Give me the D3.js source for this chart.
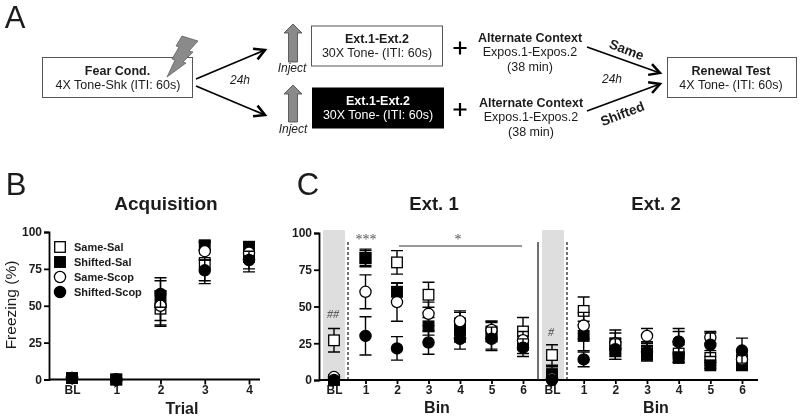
<!DOCTYPE html>
<html><head><meta charset="utf-8">
<script src="https://d3js.org/d3.v7.min.js"></script>
<style>
html,body{margin:0;padding:0;background:#fff}
svg{display:block;filter:blur(0.35px)}
text{font-family:"Liberation Sans",Arial,sans-serif;fill:#1c1c1c}
</style></head><body><svg id="c" width="800" height="417"></svg>
<script>
// ---------- data ----------
const seriesNames = ["Same-Sal","Shifted-Sal","Same-Scop","Shifted-Scop"];
const trialLabels = ["BL","1","2","3","4"];
const binLabels = ["BL","1","2","3","4","5","6"];

const acqSameSal     = [1,0,48,79,83];
const acqSameSalErr  = [0,0,12,14,10];
const acqShiftedSal    = [1,0,53,91,90];
const acqShiftedSalErr = [0,0,16,3,3];
const acqSameScop    = [1,0,50,87,86];
const acqSameScopErr = [0,0,10,6,6];
const acqShiftedScop    = [1,0,58,74,81];
const acqShiftedScopErr = [0,0,9,7,6];

const ext1SameSal     = [27,83,80,58,36,33,33];
const ext1SameSalErr  = [8,6,8,8.5,10,7,9.5];
const ext1ShiftedSal    = [0,83,60,36.5,34,30,24];
const ext1ShiftedSalErr = [1,5,6,6,8,9,6];
const ext1SameScop    = [2,60,53,45,40,34,27];
const ext1SameScopErr = [1,11.5,13,8,7,6,6];
const ext1ShiftedScop    = [0,30,21.5,25.5,28,28,22];
const ext1ShiftedScopErr = [0,13,8,8,7,8,6];

const ext2SameSal     = [17,47,25,20,18,15,14];
const ext2SameSalErr  = [7,9.5,9,6,6,5,5];
const ext2ShiftedSal    = [4,30,20,18,15,10,10];
const ext2ShiftedSalErr = [5,10,6,5,3,2,3];
const ext2SameScop    = [1,37,25,30,26,29,14];
const ext2SameScopErr = [1,9,7,5,7,4,6];
const ext2ShiftedScop    = [0,14,21,19,26,24,20];
const ext2ShiftedScopErr = [0,5,7,6,9,8,8.5];

const yTicks = [0,25,50,75,100];

// ---------- helpers ----------
const svg = d3.select("#c");
function label(x,y,t,o={}){
  const el = svg.append("text").attr("x",x).attr("y",y).text(t)
    .attr("text-anchor",o.anchor||"middle")
    .attr("font-size",o.size||12)
    .attr("font-weight",o.bold?"bold":"normal")
    .attr("font-style",o.italic?"italic":"normal");
  if(o.fill) el.style("fill",o.fill);
  if(o.family) el.style("font-family",o.family);
  if(o.rotate!==undefined) el.attr("transform",`rotate(${o.rotate} ${x} ${y})`);
  return el;
}
function marker(g,i,x,y){
  const open = i===0||i===2, square = i<2;
  const s = square ? g.append("rect").attr("x",x-5.3).attr("y",y-5.3).attr("width",10.6).attr("height",10.6)
                   : g.append("circle").attr("cx",x).attr("cy",y).attr("r",5.6);
  s.attr("fill",open?"#fff":"#000").attr("stroke","#000").attr("stroke-width",1.3);
}
function drawSeries(g,x,y,sets){
  sets.forEach(([vals,errs],i)=>{
    vals.forEach((v,k)=>{
      const px=x(k), e=errs[k];
      if(e>0){
        const hi=y(v+e), lo=y(v-e);
        g.append("path").attr("d",`M${px},${hi}V${lo}M${px-6},${hi}H${px+6}M${px-6},${lo}H${px+6}`)
          .attr("fill","none").attr("stroke","#000").attr("stroke-width",1.4);
      }
      marker(g,i,px,y(v));
    });
  });
}
function styleAxis(a,size){
  a.selectAll("path,line").attr("stroke","#000").attr("stroke-width",1.8);
  a.selectAll("text").attr("font-size",size).attr("font-weight","bold")
   .style("font-family",'"Liberation Sans",Arial,sans-serif');
}
function arrow(x1,y1,x2,y2,w=1.7,head=12){
  const a=Math.atan2(y2-y1,x2-x1), s=0.5;
  svg.append("path").attr("d",`M${x1},${y1}L${x2},${y2}`)
    .attr("fill","none").attr("stroke","#000").attr("stroke-width",w);
  svg.append("path").attr("d",`M${x2-head*Math.cos(a-s)},${y2-head*Math.sin(a-s)}L${x2},${y2}L${x2-head*Math.cos(a+s)},${y2-head*Math.sin(a+s)}`)
    .attr("fill","none").attr("stroke","#000").attr("stroke-width",w+0.8);
}

// ---------- panel A ----------
label(15,28,"A",{size:31});
function box(x,y,w,h,fill){svg.append("rect").attr("x",x).attr("y",y).attr("width",w).attr("height",h)
  .attr("fill",fill).attr("stroke",fill==="#000"?"#000":"#555").attr("stroke-width",1);}
box(42.5,57.5,150,40,"#fff");
label(117.5,75,"Fear Cond.",{bold:true,size:12.5});
label(118,88.5,"4X Tone-Shk (ITI: 60s)",{size:12.5});
svg.append("polygon").attr("points","182,36 198,41 189,51 193,52 183,62 186,63 167,77 175,60 172,59 179,47 176,46")
  .attr("fill","#8a8a8a").attr("stroke","#444").attr("stroke-width",0.6);
arrow(196,79,265,50); arrow(196,86,265,115);
label(240,84,"24h",{italic:true,size:12});
function upArrow(cx,top,bot){
  svg.append("polygon").attr("points",`${cx},${top} ${cx+9},${top+9} ${cx+4.5},${top+9} ${cx+4.5},${bot} ${cx-4.5},${bot} ${cx-4.5},${top+9} ${cx-9},${top+9}`)
    .attr("fill","#8a8a8a").attr("stroke","#444").attr("stroke-width",0.8);
}
upArrow(293,24,62); upArrow(293,85,122);
label(292,72,"Inject",{italic:true,size:12});
label(293,133,"Inject",{italic:true,size:12});
box(311.5,26,131,40,"#fff");
label(377,43,"Ext.1-Ext.2",{bold:true,size:12.5});
label(377,57,"30X Tone- (ITI: 60s)",{size:12.5});
box(312.5,88,131,40,"#000");
label(378,105,"Ext.1-Ext.2",{bold:true,size:12.5,fill:"#fff"});
label(378,119,"30X Tone- (ITI: 60s)",{size:12.5,fill:"#fff"});
[[460,48],[460,109.5]].forEach(([x,y])=>svg.append("path").attr("d",`M${x-6.5},${y}H${x+6.5}M${x},${y-6.5}V${y+6.5}`).attr("stroke","#000").attr("stroke-width",2.2));
label(530,42,"Alternate Context",{bold:true,size:12.5});
label(530,56,"Expos.1-Expos.2",{size:12.5});
label(530,71,"(38 min)",{size:12.5});
label(531,107,"Alternate Context",{bold:true,size:12.5});
label(531,121,"Expos.1-Expos.2",{size:12.5});
label(531,136,"(38 min)",{size:12.5});
arrow(587,47,660,73); arrow(587,111,660,84);
label(612,83,"24h",{italic:true,size:12});
label(0,0,"Same",{bold:true,size:13.5}).attr("transform","translate(625,54) rotate(21)");
label(0,0,"Shifted",{bold:true,size:13.5}).attr("transform","translate(624,118) rotate(-21)");
box(667.5,57.5,129,40,"#fff");
label(731,75,"Renewal Test",{bold:true,size:12.5});
label(731,88.5,"4X Tone- (ITI: 60s)",{size:12.5});

// ---------- panel B ----------
label(16,195,"B",{size:31});
label(166,210,"Acquisition",{bold:true,size:19});
const yB = d3.scaleLinear().domain([0,100]).range([379.5,232]);
const xB = d3.scaleLinear().domain([0,4]).range([72,249]);
const axB = svg.append("g").attr("transform","translate(49,0)")
  .call(d3.axisLeft(yB).tickValues(yTicks).tickSize(5).tickPadding(2));
styleAxis(axB,12);
const bxB = svg.append("g").attr("transform","translate(0,379.5)")
  .call(d3.axisBottom(xB).tickValues(d3.range(5)).tickFormat(i=>trialLabels[i]).tickSize(5).tickPadding(1));
styleAxis(bxB,12);
bxB.select(".domain").remove();
svg.append("line").attr("x1",49).attr("x2",260).attr("y1",379.5).attr("y2",379.5).attr("stroke","#000").attr("stroke-width",1.8);
label(182,414,"Trial",{bold:true,size:16});
label(16,305,"Freezing (%)",{size:15.5,rotate:-90});
const gB = svg.append("g");
drawSeries(gB,xB,yB,[[acqSameSal,acqSameSalErr],[acqShiftedSal,acqShiftedSalErr],[acqSameScop,acqSameScopErr],[acqShiftedScop,acqShiftedScopErr]]);
const yLeg = d3.scalePoint().domain(seriesNames).range([247,292]);
seriesNames.forEach((n,i)=>{
  marker(svg,i,60,yLeg(n));
  label(74,yLeg(n)+4,n,{anchor:"start",bold:true,size:11});
});

// ---------- panel C ----------
label(308,195,"C",{size:31});
label(434,210,"Ext. 1",{bold:true,size:18.5});
label(656,210,"Ext. 2",{bold:true,size:18.5});
const yC = d3.scaleLinear().domain([0,100]).range([380,233]);
const xC1 = d3.scaleLinear().domain([0,6]).range([334,523]);
const xC2 = d3.scaleLinear().domain([0,6]).range([552,742]);
[[323,22],[542,22]].forEach(([x,w])=>svg.append("rect").attr("x",x).attr("y",230).attr("width",w).attr("height",150)
  .attr("fill","#dedede").attr("rx",1));
const axC = svg.append("g").attr("transform","translate(319,0)")
  .call(d3.axisLeft(yC).tickValues(yTicks).tickSize(5).tickPadding(2));
styleAxis(axC,12);
[xC1,xC2].forEach(x=>{
  const a=svg.append("g").attr("transform","translate(0,380)")
    .call(d3.axisBottom(x).tickValues(d3.range(7)).tickFormat(i=>binLabels[i]).tickSize(4).tickPadding(1));
  styleAxis(a,12); a.select(".domain").remove();
});
svg.append("line").attr("x1",319).attr("x2",758).attr("y1",380).attr("y2",380).attr("stroke","#000").attr("stroke-width",1.8);
label(437,413,"Bin",{bold:true,size:16});
label(656,413,"Bin",{bold:true,size:16});
[348,567].forEach(x=>svg.append("line").attr("x1",x).attr("x2",x).attr("y1",242).attr("y2",380).attr("stroke","#000").attr("stroke-width",1.1).attr("stroke-dasharray","3,2"));
svg.append("line").attr("x1",538).attr("x2",538).attr("y1",242).attr("y2",380).attr("stroke","#222").attr("stroke-width",1.3);
svg.append("line").attr("x1",399).attr("x2",522).attr("y1",246).attr("y2",246).attr("stroke","#333").attr("stroke-width",1);
const serif='"Liberation Serif",serif';
label(366,244,"***",{size:14,fill:"#555",family:serif});
label(458,244,"*",{size:14,fill:"#555",family:serif});
label(333,318,"##",{size:12,italic:true,fill:"#444",family:serif});
label(551,336,"#",{size:12,italic:true,fill:"#444",family:serif});
const gC = svg.append("g");
drawSeries(gC,xC1,yC,[[ext1SameSal,ext1SameSalErr],[ext1ShiftedSal,ext1ShiftedSalErr],[ext1SameScop,ext1SameScopErr],[ext1ShiftedScop,ext1ShiftedScopErr]]);
drawSeries(gC,xC2,yC,[[ext2SameSal,ext2SameSalErr],[ext2ShiftedSal,ext2ShiftedSalErr],[ext2SameScop,ext2SameScopErr],[ext2ShiftedScop,ext2ShiftedScopErr]]);
</script></body></html>
